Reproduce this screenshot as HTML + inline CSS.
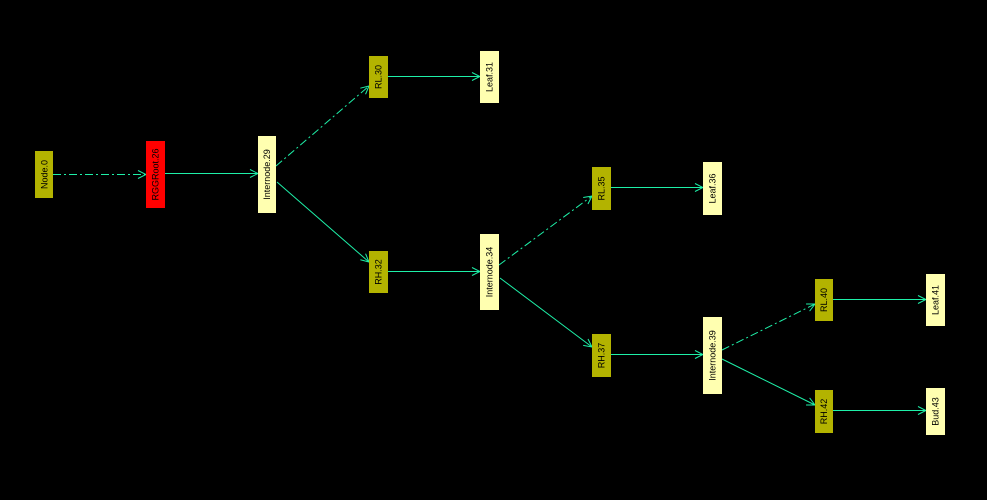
<!DOCTYPE html>
<html><head><meta charset="utf-8"><style>
html,body{margin:0;padding:0;background:#000;width:987px;height:500px;overflow:hidden}
svg{display:block}
text{font-family:"Liberation Sans","DejaVu Sans",sans-serif;font-size:9px;fill:#000}
</style></head><body>
<svg width="987" height="500" viewBox="0 0 987 500" xmlns="http://www.w3.org/2000/svg">
<defs>
<marker id="a" markerWidth="10" markerHeight="10" refX="9" refY="5" orient="auto" markerUnits="userSpaceOnUse">
<path d="M1,1 L9,5 L1,9" fill="none" stroke="#1ef0a8" stroke-width="1"/>
</marker>
</defs>
<rect width="987" height="500" fill="#000"/>
<g stroke="#1ef0a8" stroke-width="1" fill="none" marker-end="url(#a)">
<line x1="53" y1="174.5" x2="146" y2="174.5" stroke-dasharray="8,3,2,3"/>
<line x1="165" y1="173.5" x2="258" y2="173.5"/>
<line x1="276" y1="166" x2="369" y2="86" stroke-dasharray="8,3,2,3"/>
<line x1="277" y1="182" x2="369" y2="262"/>
<line x1="388" y1="76.5" x2="480" y2="76.5"/>
<line x1="388" y1="271.5" x2="480" y2="271.5"/>
<line x1="499" y1="265" x2="592" y2="196" stroke-dasharray="8,3,2,3"/>
<line x1="500" y1="278" x2="592" y2="347"/>
<line x1="611" y1="187.5" x2="703" y2="187.5"/>
<line x1="611" y1="354.5" x2="703" y2="354.5"/>
<line x1="722" y1="350" x2="815" y2="304" stroke-dasharray="8,3,2,3"/>
<line x1="722" y1="359" x2="815" y2="405"/>
<line x1="833" y1="299.5" x2="926" y2="299.5"/>
<line x1="833" y1="410.5" x2="926" y2="410.5"/>
</g>
<g>
<rect x="35" y="151" width="18" height="47" fill="#b3b300"/>
<rect x="146" y="141" width="19" height="67" fill="#ff0000"/>
<rect x="258" y="136" width="18" height="77" fill="#ffffb0"/>
<rect x="369" y="56" width="19" height="42" fill="#b3b300"/>
<rect x="480" y="51" width="19" height="52" fill="#ffffb0"/>
<rect x="369" y="251" width="19" height="42" fill="#b3b300"/>
<rect x="480" y="234" width="19" height="76" fill="#ffffb0"/>
<rect x="592" y="167" width="19" height="43" fill="#b3b300"/>
<rect x="703" y="162" width="19" height="53" fill="#ffffb0"/>
<rect x="592" y="334" width="19" height="43" fill="#b3b300"/>
<rect x="703" y="317" width="19" height="77" fill="#ffffb0"/>
<rect x="815" y="279" width="18" height="42" fill="#b3b300"/>
<rect x="926" y="274" width="19" height="52" fill="#ffffb0"/>
<rect x="815" y="390" width="18" height="43" fill="#b3b300"/>
<rect x="926" y="388" width="19" height="47" fill="#ffffb0"/>
</g>
<g text-anchor="middle">
<text transform="translate(47.5,174.5) rotate(-90)">Node.0</text>
<text transform="translate(158.5,174.5) rotate(-90)">RGGRoot.26</text>
<text transform="translate(270,174.5) rotate(-90)">Internode.29</text>
<text transform="translate(381.5,77) rotate(-90)">RL.30</text>
<text transform="translate(492.5,77) rotate(-90)">Leaf.31</text>
<text transform="translate(381.5,272) rotate(-90)">RH.32</text>
<text transform="translate(492.5,272) rotate(-90)">Internode.34</text>
<text transform="translate(604.5,188.5) rotate(-90)">RL.35</text>
<text transform="translate(715.5,188.5) rotate(-90)">Leaf.36</text>
<text transform="translate(604.5,355.5) rotate(-90)">RH.37</text>
<text transform="translate(715.5,355.5) rotate(-90)">Internode.39</text>
<text transform="translate(827,300) rotate(-90)">RL.40</text>
<text transform="translate(938.5,300) rotate(-90)">Leaf.41</text>
<text transform="translate(827,411.5) rotate(-90)">RH.42</text>
<text transform="translate(938.5,411.5) rotate(-90)">Bud.43</text>
</g>
</svg>
</body></html>
